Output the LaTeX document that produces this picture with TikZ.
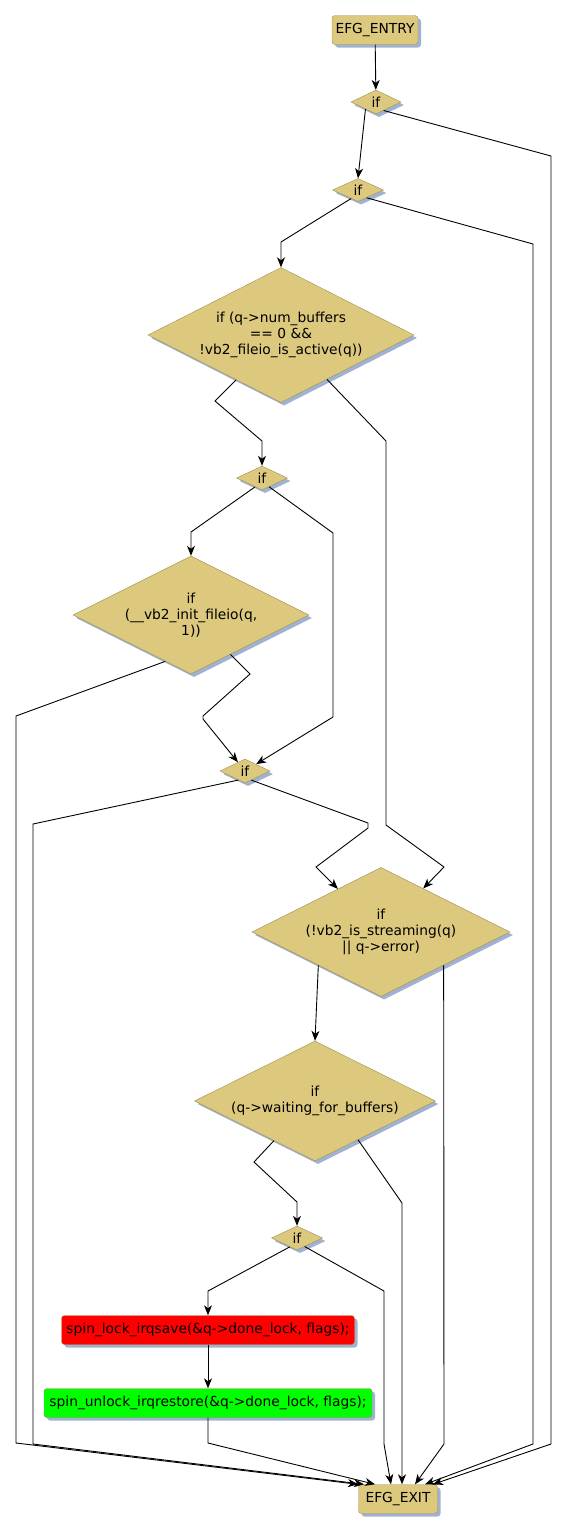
\documentclass[tikz,border=0pt]{standalone}
\usepackage{fontspec}
\setmainfont{DejaVu Sans}
\usepackage{tikz}
\usetikzlibrary{arrows.meta,shapes.geometric,shadows}

\definecolor{efgtan}{RGB}{220,201,126}
\definecolor{efgrim}{RGB}{160,144,80}
\definecolor{efgshade}{RGB}{160,178,210}

\begin{document}
\begin{tikzpicture}[x=1pt, y=-1pt,
      font=\fontsize{13.8}{16}\selectfont,
      shd/.style={drop shadow={shadow xshift=3pt, shadow yshift=-3pt,
                  fill=efgshade, opacity=1}},
      term/.style={draw=efgrim, fill=efgtan, rounded corners=3pt, inner sep=0pt,
                   minimum height=29pt, shd},
      cond/.style={diamond, draw=efgrim, fill=efgtan, shape aspect=2, inner sep=0pt,
                   align=center, shd},
      stmt/.style={draw=efgrim, rounded corners=3pt, inner sep=0pt,
                   minimum height=29pt, shd},
      flow/.style={-{Stealth[length=10pt,width=8pt,inset=3pt]}, line width=0.9pt}]

    %% page frame: one unit is one pixel of the 567 x 1532 drawing, y grows downwards
    \useasboundingbox (0,0) rectangle (567,1532);

    %% ---- nodes, top to bottom ----
    \node[term, minimum width=86pt] (entry) at (375,30) {EFG\_ENTRY};
    \node[cond, minimum width=50pt, minimum height=24pt] (if1) at (376,102) {if};
    \node[cond, minimum width=51pt, minimum height=23pt] (if2) at (358,190) {if};
    \node[cond, minimum width=266pt, minimum height=135pt] (chk) at (281,335)
      {if (q->num\_buffers\\ == 0 \&\&\\ !vb2\_fileio\_is\_active(q))};
    \node[cond, minimum width=51pt, minimum height=24pt] (if4) at (262,478) {if};
    \node[cond, minimum width=236pt, minimum height=118pt] (init) at (191,615)
      {if\\ (\_\_vb2\_init\_fileio(q,\\ 1))};
    \node[cond, minimum width=50pt, minimum height=24pt] (if6) at (245,771) {if};
    \node[cond, minimum width=258pt, minimum height=129pt] (strm) at (381,932)
      {if\\ (!vb2\_is\_streaming(q)\\ || q->error)};
    \node[cond, minimum width=241pt, minimum height=120pt] (wait) at (315,1101)
      {if\\ (q->waiting\_for\_buffers)};
    \node[cond, minimum width=51pt, minimum height=24pt] (if9) at (297,1238) {if};
    \node[stmt, fill=red, minimum width=293pt] (lock) at (208,1330)
      {spin\_lock\_irqsave(\&q->done\_lock, flags);};
    \node[stmt, fill=green, minimum width=328pt] (unlock) at (208,1403)
      {spin\_unlock\_irqrestore(\&q->done\_lock, flags);};
    \node[term, minimum width=79pt] (exit) at (398,1499) {EFG\_EXIT};

    %% ---- edges; every branch that leaves the chain ends on EFG_EXIT ----
    \draw[flow] (entry) -- (if1);
    \draw[flow] (if1.214) -- (if2.north);
    \draw[flow] (if1.-48) -- (551,156) -- (551,1444) -- ([xshift=35pt]exit.north);
    \draw[flow] (if2.231) -- (281,242) -- (chk.north);
    \draw[flow] (if2.-42) -- (533,244) -- (533,1444) -- ([xshift=27pt]exit.north);
    \draw[flow] (chk.225) -- (215,401) -- (262,441) -- (if4.north);
    \draw[flow] (chk.-44) -- (386,441) -- (386,825) -- (444,867) -- (strm);
    \draw[flow] (if4.232) -- (191,532) -- (init.north);
    \draw[flow] (if4.-51) -- (333,533) -- (333,717) -- (if6);
    \draw[flow] (init.-45) -- (250,674) -- (203,716) -- (203,719) -- (if6);
    \draw[flow] (init.241) -- (16,716) -- (16,1443) -- ([xshift=-40pt]exit.north);
    \draw[flow] (if6.234) -- (33,824) -- (33,1444) -- ([xshift=-34pt]exit.north);
    \draw[flow] (if6.-55) -- (368,823) -- (368,828) -- (316,867) -- (strm);
    \draw[flow] (strm.208) -- (wait.north);
    \draw[flow] (strm.-28) -- (444,1444) -- ([xshift=17pt]exit.north);
    \draw[flow] (wait.224) -- (254,1162) -- (297,1202) -- (if9.north);
    \draw[flow] (wait.-42) -- (402,1203) -- ([xshift=4pt]exit.north);
    \draw[flow] (if9.231) -- (208,1291) -- (lock.north);
    \draw[flow] (if9.-48) -- (384,1291) -- (384,1444) -- ([xshift=-7pt]exit.north);
    \draw[flow] (lock) -- (unlock);
    \draw[flow] (unlock.south) -- (208,1443) -- ([xshift=-23pt]exit.north);
  \end{tikzpicture}
\end{document}
